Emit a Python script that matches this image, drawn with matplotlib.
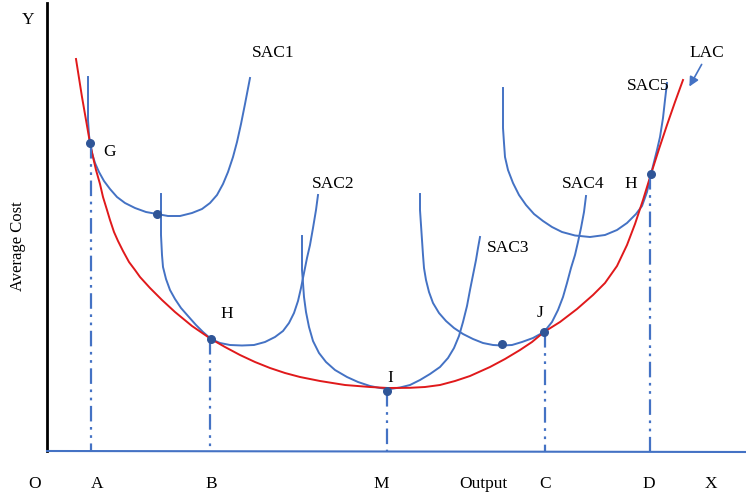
import matplotlib.pyplot as plt

# curves (x = output, y = cost, image units, y grows downward)
lac_x = [76, 79, 82, 86, 90, 93, 96, 100, 103, 107, 110, 114, 118, 123, 129, 135, 140, 150, 162, 175, 192, 211,
         225, 240, 255, 270, 285, 300, 320, 345, 370, 388, 410, 425, 440, 455, 470, 490, 505, 520, 532,
         544, 560, 577, 593, 605, 617, 627, 635, 643, 651, 659, 667, 675, 683]
lac_y = [59, 78, 97, 120, 143, 157, 170, 184, 197, 210, 220, 232, 241, 251, 262, 270, 277, 288, 300, 312, 326, 339,
         347, 355, 362, 368, 373, 377, 381, 385, 387, 388, 387.8, 387, 385, 381, 376, 367, 359, 350, 342,
         332, 322, 309, 295, 283, 266, 245, 224, 200, 174, 149, 125, 102, 80]

sac1_x = [88, 88, 88, 89, 90, 92, 95, 99, 104, 110, 117, 125, 135, 146, 157, 168, 180, 192, 202, 210,
          217, 223, 228, 233, 237, 241, 245, 250]
sac1_y = [77, 100, 120, 135, 143, 153, 163, 172, 181, 189, 197, 203, 208, 212, 214, 216, 216, 213, 209, 203,
          195, 184, 172, 157, 142, 124, 104, 78]

sac2_x = [161, 161, 161, 162, 163, 166, 170, 175, 181, 188, 196, 203, 211, 220, 230, 242, 254, 265, 275,
          283, 289, 294, 298, 301, 304, 307, 310, 313, 316, 318]
sac2_y = [194, 215, 235, 255, 267, 279, 290, 299, 308, 316, 325, 332, 339, 343, 345, 345.5, 345, 342, 337,
          331, 323, 313, 301, 288, 273, 258, 245, 228, 210, 195]

sac3_x = [302, 302, 302, 303, 304, 306, 309, 313, 319, 326, 335, 347, 358, 370, 380, 390, 400, 410, 420,
          430, 440, 448, 454, 459, 463, 467, 470, 473, 476, 478, 480]
sac3_y = [236, 255, 270, 283, 297, 312, 327, 341, 353, 362, 370, 377, 382, 386, 388, 389, 387.5, 385, 380,
          374, 367, 358, 348, 336, 322, 306, 290, 275, 260, 248, 237]

sac4_x = [420, 420, 421, 422, 423, 424, 426, 429, 433, 439, 446, 454, 463, 473, 483, 493, 502, 512, 522,
          533, 544, 552, 558, 563, 567, 571, 575, 578, 581, 584, 586]
sac4_y = [194, 210, 225, 240, 255, 268, 280, 292, 303, 313, 321, 328, 334, 339, 343, 345, 345.5, 345, 342,
          338, 332, 322, 310, 297, 283, 268, 255, 242, 228, 212, 196]

sac5_x = [503, 503, 503, 504, 505, 508, 513, 519, 526, 534, 543, 552, 562, 575, 590, 605, 617, 627, 636,
          642, 647, 651, 654, 657, 660, 663, 665, 667]
sac5_y = [88, 110, 128, 143, 157, 170, 183, 195, 205, 214, 221, 227, 232, 235.5, 237, 235, 230, 223, 214,
          206, 192, 174, 162, 150, 137, 118, 100, 83]

# tangency / minimum points
pt_x = [90, 157, 211, 387, 502, 544, 651]
pt_y = [143, 214, 339, 391, 344, 332, 174]

# dropped lines to the output axis
drop_x = [91, 210, 387, 545, 650]
drop_top = [143, 339, 391, 332, 174]

tick_names = ['O', 'A', 'B', 'M', 'Output', 'C', 'D', 'X']
tick_pos = [35, 97, 211, 381, 483, 545, 649, 711]

BLUE = '#4472c4'
DOT = '#2f5597'
RED = '#e0191b'

fig = plt.figure(figsize=(7.46, 5.0), dpi=100)
ax = fig.add_axes([0, 0, 1, 1])
ax.set_xlim(0, 746)
ax.set_ylim(500, 0)
ax.axis('off')

# axes lines
ax.plot([47, 47], [3, 451], color='black', lw=2)
ax.plot([47, 746], [451, 452], color=BLUE, lw=1.5)

for xs, ys in [(sac1_x, sac1_y), (sac2_x, sac2_y), (sac3_x, sac3_y),
               (sac4_x, sac4_y), (sac5_x, sac5_y)]:
    ax.plot(xs, ys, color=BLUE, lw=1.4, solid_joinstyle='round')
ax.plot(lac_x, lac_y, color=RED, lw=1.4, solid_joinstyle='round')

for x, top in zip(drop_x, drop_top):
    ax.plot([x, x], [top, 451], color=BLUE, lw=1.6, dashes=(7, 2.5, 1.2, 2.5, 1.2, 2.5))

ax.scatter(pt_x, pt_y, s=30, color=DOT, zorder=5)

serif = ['Liberation Serif', 'DejaVu Serif']
fs = 12.5
ax.text(28, 20, 'Y', fontsize=fs, family=serif, ha='center', va='center')
for name, x in zip(tick_names, tick_pos):
    ax.text(x, 484, name, fontsize=fs, family=serif, ha='center', va='center')
ax.text(18, 246, 'Average Cost', fontsize=12, family=serif, rotation=90, ha='center', va='center')

labels = [('SAC1', 273, 53), ('SAC2', 333, 184), ('SAC3', 508, 248), ('SAC4', 583, 184),
          ('SAC5', 648, 86), ('LAC', 707, 53), ('G', 110, 152), ('H', 227, 314),
          ('I', 390, 378), ('J', 540, 313), ('H', 631, 184)]
for txt, x, y in labels:
    ax.text(x, y, txt, fontsize=fs, family=serif, ha='center', va='center')

ax.annotate('', xy=(688, 89), xytext=(703, 62),
            arrowprops=dict(arrowstyle='-|>', color=BLUE, lw=1.2, mutation_scale=14))

fig.savefig('out.png', dpi=100)
